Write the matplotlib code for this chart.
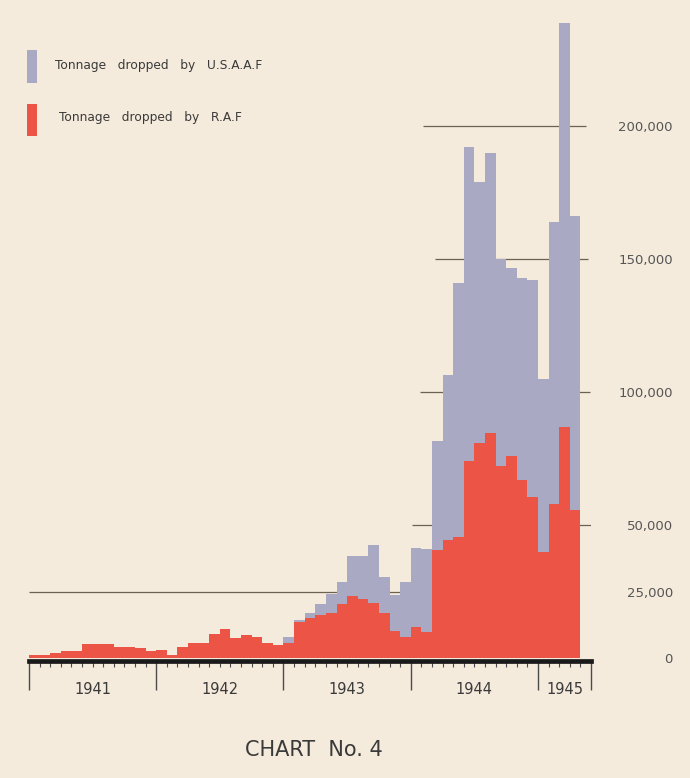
import numpy as np
import matplotlib
matplotlib.use('Agg')
import matplotlib.pyplot as plt
from matplotlib.patches import Rectangle

# ----------------------------- DATA (tons per month, Jan 1941 - Apr 1945) -----------------------
years = ['1941', '1942', '1943', '1944', '1945']
months_in_year = [12, 12, 12, 12, 5]   # axis runs to May 1945

raf = [
    1000, 1250, 1700, 2600, 2600, 5300, 5300, 5100, 4000, 4000, 3900, 2800,          # 1941
    2900, 1200, 4000, 5500, 5500, 9200, 11000, 7700, 8800, 7800, 5800, 4800,         # 1942
    5800, 13500, 14900, 16000, 17000, 20200, 23300, 22300, 20800, 17100, 10200, 8000, # 1943
    11500, 9800, 40500, 44500, 45500, 74000, 81000, 84500, 72000, 76000, 67000, 60500, # 1944
    40000, 58000, 87000, 55500,                                                      # 1945
]
usaaf = [
    0, 0, 0, 0, 0, 0, 0, 0, 0, 0, 0, 0,
    0, 0, 0, 0, 0, 0, 0, 0, 0, 0, 0, 0,
    2000, 600, 1900, 4200, 7200, 8500, 15000, 16000, 21700, 13200, 13300, 20500,
    30000, 31200, 41000, 62000, 95500, 118000, 98000, 105500, 78000, 70500, 75700, 81500,
    64800, 106000, 151800, 110700,
]

y_ticks = [0, 25000, 50000, 100000, 150000, 200000]
y_labels = ['0', '25,000', '50,000', '100,000', '150,000', '200,000']

# ----------------------------- STYLE --------------------------------------------------------------
bg = '#f5ebdd'
gray = '#a9a9c4'
red = '#ec5546'
ink = '#3a3a3a'

fig = plt.figure(figsize=(6.9, 7.78), dpi=100, facecolor=bg)
ax = fig.add_axes([29/690, 1-658/778, 562/690, 648/778])
ax.set_facecolor(bg)

n_axis = sum(months_in_year)
edges = np.arange(len(raf) + 1)
total = np.array(raf) + np.array(usaaf)

# reference lines (drawn behind the fills, as in the original)
ref_lines = [(25000, 0, 35.5), (50000, 36.1, 53.0), (100000, 36.9, 52.9),
             (150000, 38.3, 52.7), (200000, 37.2, 52.5)]
for val, x0, x1 in ref_lines:
    ax.hlines(val, x0, x1, color='#6b6254', lw=0.9, zorder=1)

ax.stairs(total, edges, fill=True, color=gray, baseline=0, zorder=2)
ax.stairs(raf, edges, fill=True, color=red, baseline=0, zorder=3)

ax.set_xlim(0, n_axis)
ax.set_ylim(0, 648 / 2.66 * 1000)

for s in ['top', 'left', 'right']:
    ax.spines[s].set_visible(False)
ax.spines['bottom'].set_position(('outward', 2))
ax.spines['bottom'].set_linewidth(3.4)
ax.spines['bottom'].set_color('#1a1a1a')
ax.spines['bottom'].set_zorder(4)

year_edges = np.concatenate([[0], np.cumsum(months_in_year)])
ax.set_xticks(year_edges)
ax.set_xticklabels([])
ax.set_xticks(np.arange(n_axis + 1), minor=True)
ax.tick_params(axis='x', which='major', length=21, width=1.0, color='#4a4a4a')
ax.tick_params(axis='x', which='minor', length=4, width=0.8, color='#4a4a4a')

for i, yr in enumerate(years):
    cx = (year_edges[i] + year_edges[i + 1]) / 2
    ax.text(cx, -0.048, yr, transform=ax.get_xaxis_transform(), ha='center', va='center',
            fontsize=10.5, color=ink)

ax.yaxis.tick_right()
ax.set_yticks(y_ticks)
ax.set_yticklabels(y_labels, ha='right')
ax.tick_params(axis='y', length=0, pad=59, labelsize=9.5, labelcolor='#555555')

# legend
fig.add_artist(Rectangle((27/690, 1-83/778), 10/690, 33/778, transform=fig.transFigure,
                         color=gray, lw=0))
fig.add_artist(Rectangle((27/690, 1-136/778), 10/690, 32/778, transform=fig.transFigure,
                         color=red, lw=0))
fig.text(55/690, 1-65/778, 'Tonnage   dropped   by   U.S.A.A.F', va='center', fontsize=8.8, color=ink)
fig.text(59/690, 1-117/778, 'Tonnage   dropped   by   R.A.F', va='center', fontsize=8.8, color=ink)

fig.text(314/690, 1-750/778, 'CHART  No. 4', ha='center', va='center', fontsize=15, color=ink)

fig.savefig('out.png', dpi=100, facecolor=bg)
